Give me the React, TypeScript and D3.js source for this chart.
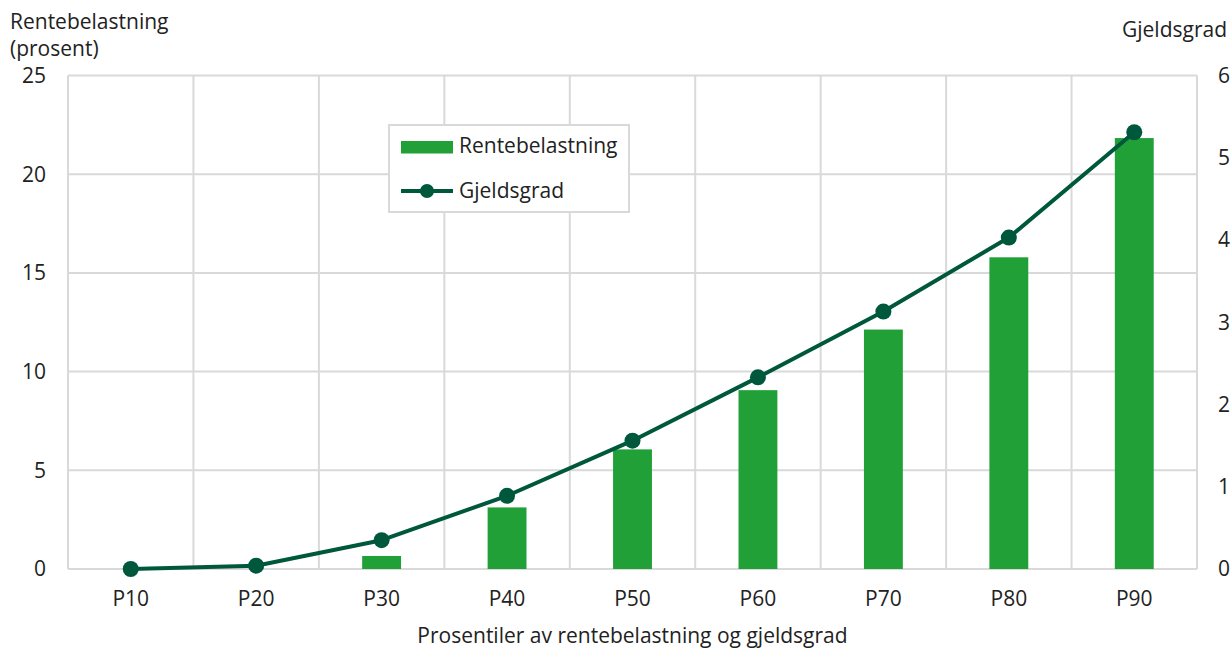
import React from "react";
import * as d3 from "d3";

const categories = ["P10", "P20", "P30", "P40", "P50", "P60", "P70", "P80", "P90"];
const renteValues = [0, 0, 0.66, 3.12, 6.06, 9.06, 12.13, 15.79, 21.83];
const gjeldValues = [0, 0.04, 0.35, 0.89, 1.56, 2.33, 3.13, 4.03, 5.31];
const leftTicks = [0, 5, 10, 15, 20, 25];
const rightTicks = [0, 1, 2, 3, 4, 5, 6];

const W = 1232;
const H = 648;
const plot = { left: 68, right: 1197, top: 75.5, bottom: 569 };
const FONT = "'Open Sans', sans-serif";
const FS = 21;
const TEXT = "#222222";
const GRID = "#d9d9d9";
const BAR = "#21a038";
const LINE = "#00583c";

export default function App() {
  const x = d3
    .scaleBand<string>()
    .domain(categories)
    .range([plot.left, plot.right])
    .paddingInner(0)
    .paddingOuter(0);
  const yL = d3.scaleLinear().domain([0, 25]).range([plot.bottom, plot.top]);
  const yR = d3.scaleLinear().domain([0, 6]).range([plot.bottom, plot.top]);
  const bw = x.bandwidth();
  const barW = bw * 0.31;
  const cx = (c: string) => (x(c) as number) + bw / 2;

  const line = d3
    .line<number>()
    .x((_, i) => cx(categories[i]))
    .y((d) => yR(d));

  const boundaries = categories.map((c) => x(c) as number).concat([plot.right]);

  return (
    <div style={{ position: "absolute", left: 0, top: 0 }}>
      <svg width={W} height={H} style={{ display: "block", fontFamily: FONT }}>
        <rect width={W} height={H} fill="#ffffff" />
        {/* horizontal grid */}
        {leftTicks.map((t) => (
          <line key={"h" + t} x1={plot.left} x2={plot.right} y1={yL(t)} y2={yL(t)} stroke={GRID} strokeWidth={2} />
        ))}
        {/* vertical grid at category boundaries */}
        {boundaries.map((bx, i) => (
          <line key={"v" + i} x1={bx} x2={bx} y1={plot.top} y2={plot.bottom} stroke={GRID} strokeWidth={2} />
        ))}
        {/* bars */}
        {renteValues.map((v, i) => (
          <rect
            key={"b" + i}
            x={cx(categories[i]) - barW / 2}
            y={yL(v)}
            width={barW}
            height={plot.bottom - yL(v)}
            fill={BAR}
          />
        ))}
        {/* line + markers */}
        <path d={line(gjeldValues) || ""} fill="none" stroke={LINE} strokeWidth={4} strokeLinejoin="round" />
        {gjeldValues.map((v, i) => (
          <circle key={"c" + i} cx={cx(categories[i])} cy={yR(v)} r={8} fill={LINE} />
        ))}
        {/* left axis labels */}
        {leftTicks.map((t) => (
          <text key={"lt" + t} x={46} y={yL(t)} dy="0.35em" textAnchor="end" fontSize={FS} fill={TEXT}>
            {t}
          </text>
        ))}
        {/* right axis labels */}
        {rightTicks.map((t) => (
          <text key={"rt" + t} x={1218} y={yR(t)} dy="0.35em" textAnchor="start" fontSize={FS} fill={TEXT}>
            {t}
          </text>
        ))}
        {/* category labels */}
        {categories.map((c) => (
          <text key={"x" + c} x={cx(c)} y={599} dy="0.35em" textAnchor="middle" fontSize={FS} fill={TEXT}>
            {c}
          </text>
        ))}
        {/* axis titles */}
        <text x={10} y={29} fontSize={FS} fill={TEXT}>Rentebelastning</text>
        <text x={10} y={56} fontSize={FS} fill={TEXT}>(prosent)</text>
        <text x={1227} y={37} textAnchor="end" fontSize={FS} fill={TEXT}>Gjeldsgrad</text>
        <text x={(plot.left + plot.right) / 2} y={636} dy="0.35em" textAnchor="middle" fontSize={FS} fill={TEXT}>
          Prosentiler av rentebelastning og gjeldsgrad
        </text>
        {/* legend */}
        <g>
          <rect x={389} y={125} width={240} height={87} fill="#ffffff" stroke={GRID} strokeWidth={2} />
          <rect x={401} y={141} width={52} height={12.5} fill={BAR} />
          <text x={459} y={146} dy="0.35em" fontSize={FS} fill={TEXT}>Rentebelastning</text>
          <line x1={401} x2={453} y1={191} y2={191} stroke={LINE} strokeWidth={4} />
          <circle cx={427} cy={191} r={7} fill={LINE} />
          <text x={459} y={191} dy="0.35em" fontSize={FS} fill={TEXT}>Gjeldsgrad</text>
        </g>
      </svg>
    </div>
  );
}
